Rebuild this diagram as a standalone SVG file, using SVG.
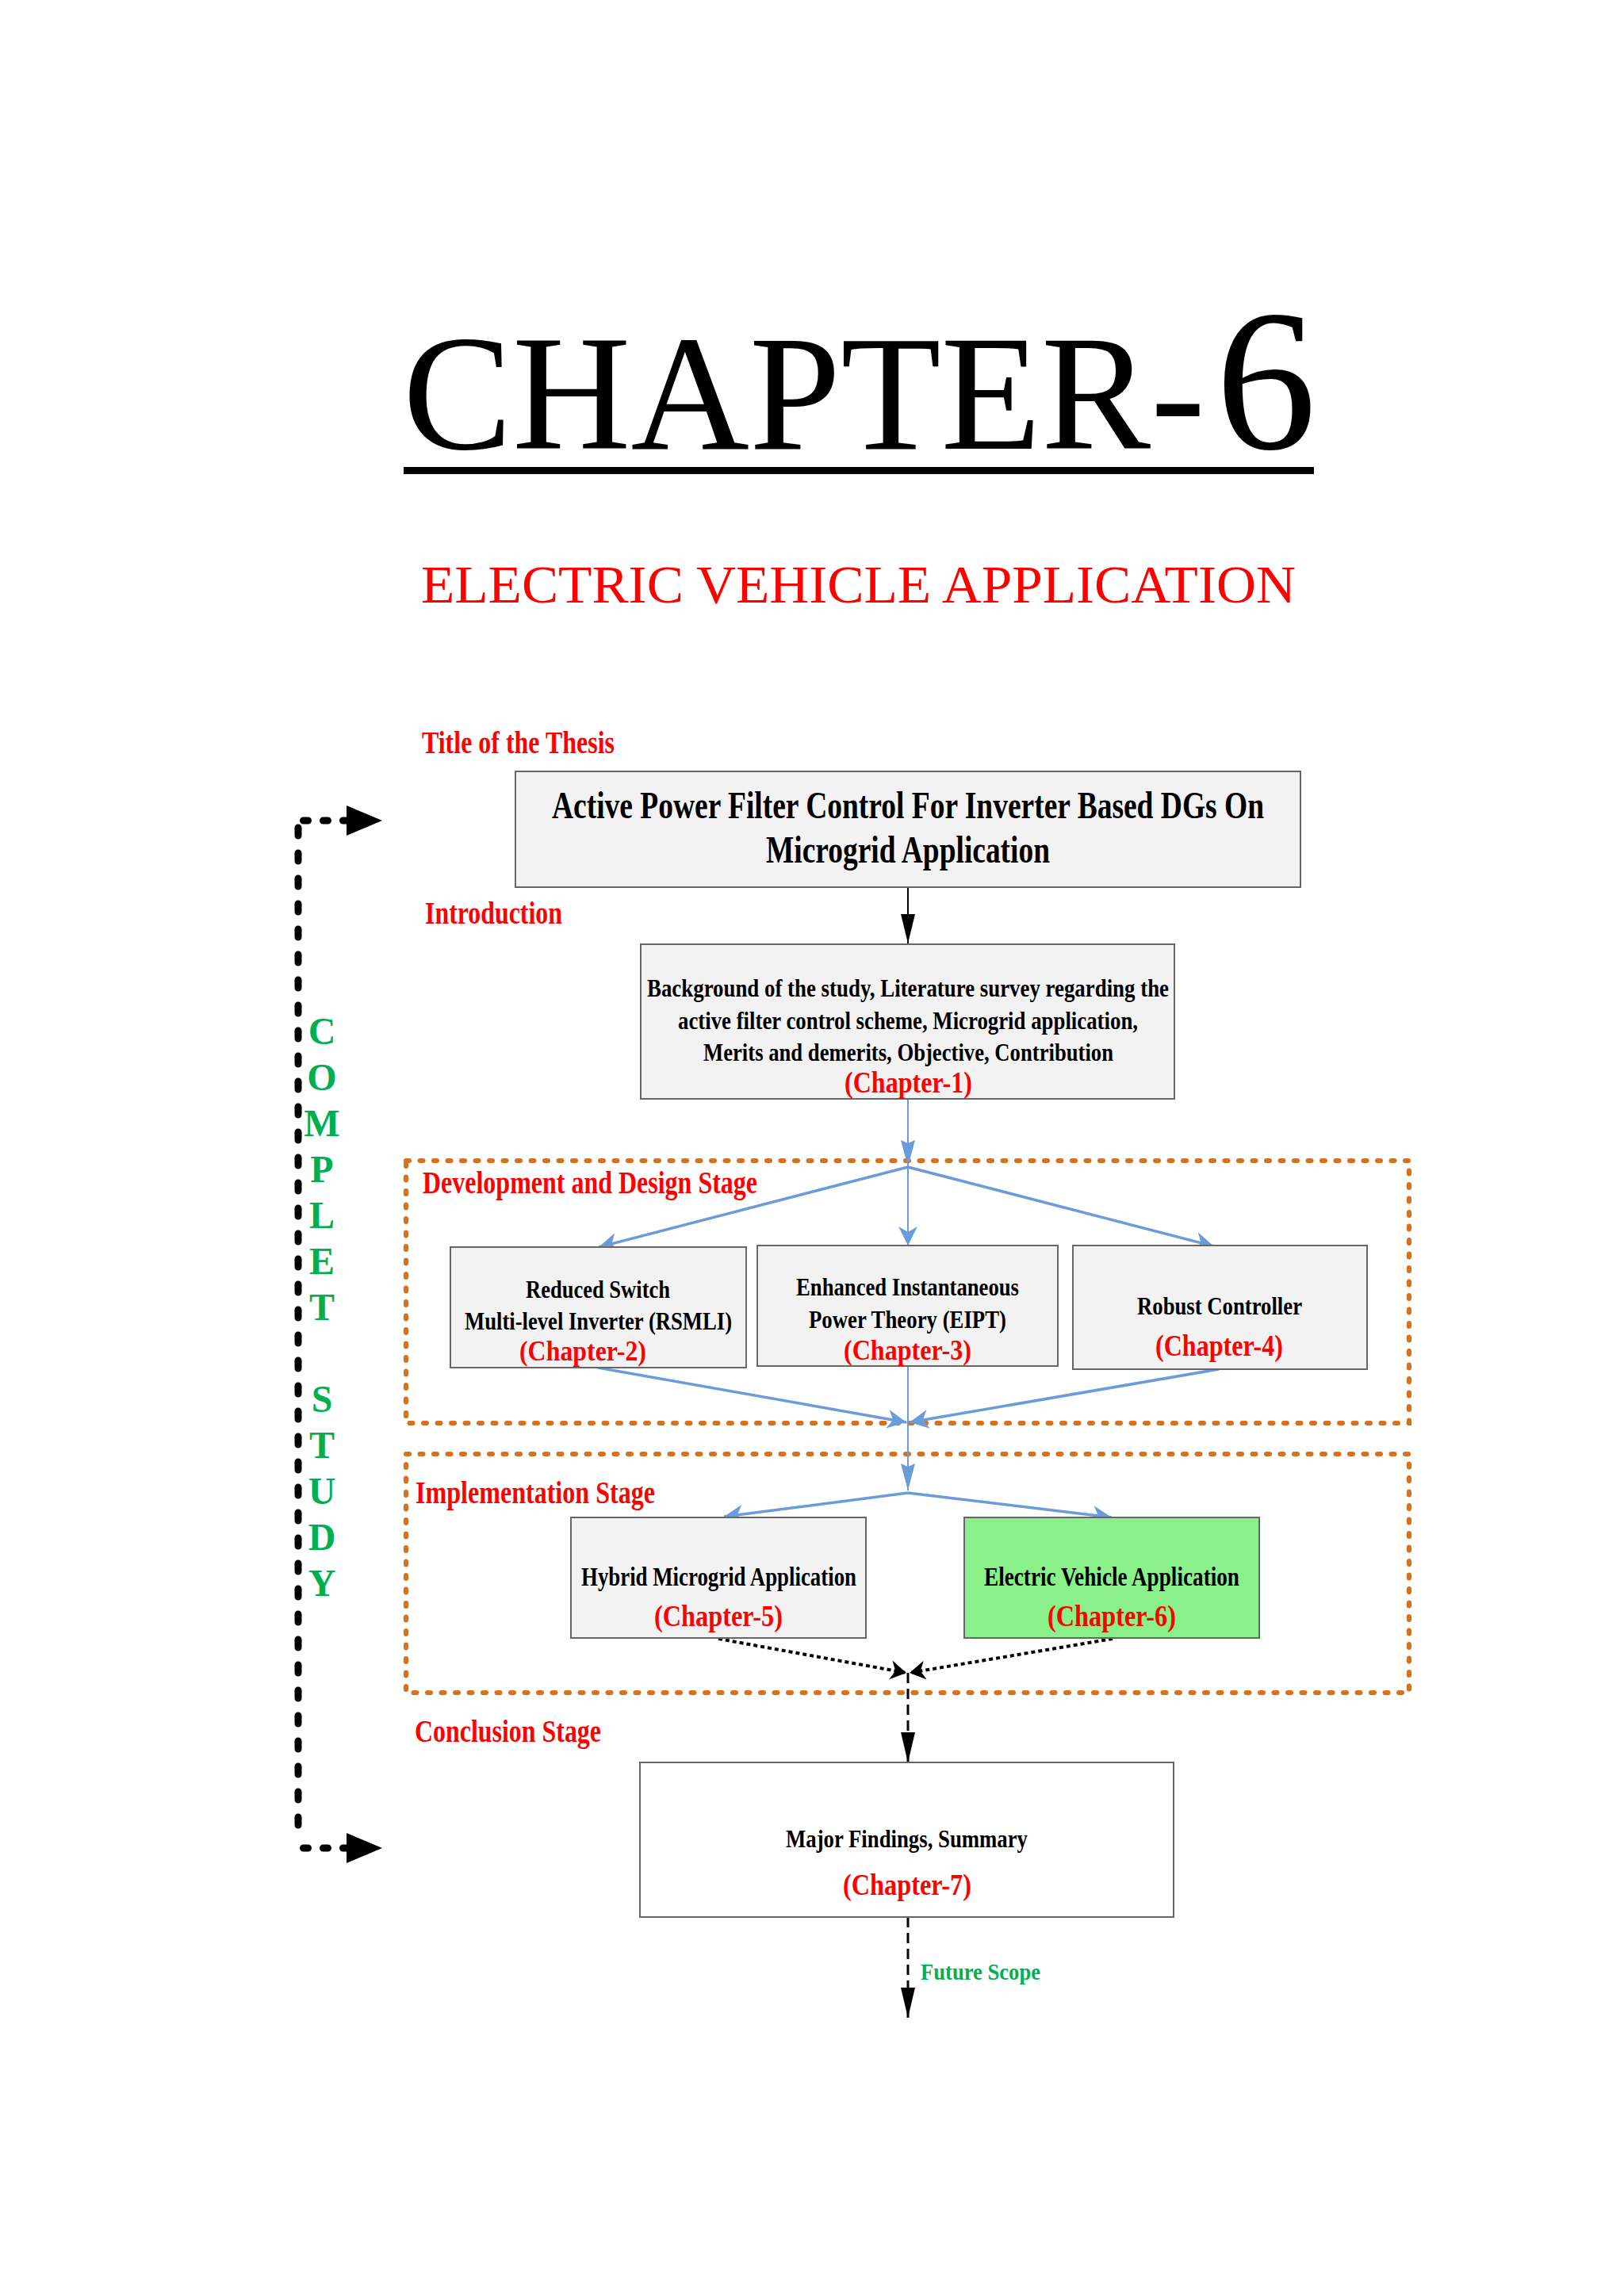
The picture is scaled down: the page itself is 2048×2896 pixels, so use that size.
<svg xmlns="http://www.w3.org/2000/svg" width="2048" height="2896" viewBox="0 0 2048 2896">
<defs>
<style>
text{font-family:"Liberation Serif","Times New Roman",serif;}
.lbl{font-weight:bold;fill:#ff0000;font-size:40px;}
.bt{font-weight:bold;fill:#000;font-size:32px;}
.bt48{font-weight:bold;fill:#000;font-size:48px;}
.bt33{font-weight:bold;fill:#000;font-size:33px;}
.ch{font-weight:bold;fill:#ff0000;font-size:37px;}
.ch34{font-weight:bold;fill:#ff0000;font-size:35px;}
.cs{font-weight:bold;fill:#00b050;font-size:48px;text-anchor:middle;}
.box{fill:#f2f2f2;stroke:#666;stroke-width:2;}
.bl{fill:none;stroke:#6c9bd9;stroke-width:3.5;}
.blt{fill:none;stroke:#6c9bd9;stroke-width:2;}
.stage{fill:none;stroke:#d9701a;stroke-width:6;stroke-dasharray:4 13.5;stroke-linecap:round;}
.kdot{fill:none;stroke:#000;stroke-width:4;stroke-dasharray:5 4;}
.kdash{fill:none;stroke:#000;stroke-width:3;stroke-dasharray:13 7;}
.brk{fill:none;stroke:#000;stroke-width:9;stroke-linecap:round;}
</style>
<marker id="bhA" markerUnits="userSpaceOnUse" viewBox="-26 -14 28 28" refX="0" refY="0" markerWidth="28" markerHeight="28" orient="auto"><path d="M0,0 L-24,-12 L-17,0 L-24,12 Z" fill="#6c9bd9"/></marker>
<marker id="bhB" markerUnits="userSpaceOnUse" viewBox="-36 -11 38 22" refX="0" refY="0" markerWidth="38" markerHeight="22" orient="auto"><path d="M0,0 L-34,-9 L-30,0 L-34,9 Z" fill="#6c9bd9"/></marker>
<marker id="kh1" markerUnits="userSpaceOnUse" viewBox="-39 -11 41 22" refX="0" refY="0" markerWidth="41" markerHeight="22" orient="auto"><path d="M0,0 L-37,-9 L-37,9 Z" fill="#000"/></marker>
<marker id="kh2" markerUnits="userSpaceOnUse" viewBox="-22 -13 24 26" refX="0" refY="0" markerWidth="24" markerHeight="26" orient="auto"><path d="M0,0 L-20,-12 L-14,0 L-20,12 Z" fill="#000"/></marker>
<marker id="kh3" markerUnits="userSpaceOnUse" viewBox="-40 -11 42 22" refX="0" refY="0" markerWidth="42" markerHeight="22" orient="auto"><path d="M0,0 L-38,-9 L-38,9 Z" fill="#000"/></marker>
</defs>
<rect x="0" y="0" width="2048" height="2896" fill="#ffffff"/>

<g id="header">
<text x="508" y="566" font-size="207" fill="#000">CHAPTER-<tspan x="1533" font-size="254">6</tspan></text>
<rect x="509" y="589" width="1148" height="9" fill="#000"/>
<text x="531" y="760" font-size="68" fill="#ff0000" textLength="1103" lengthAdjust="spacingAndGlyphs">ELECTRIC VEHICLE APPLICATION</text>
</g>

<g id="stage-labels">
<text class="lbl" x="532" y="950" textLength="243" lengthAdjust="spacingAndGlyphs">Title of the Thesis</text>
<text class="lbl" x="536" y="1165" textLength="173" lengthAdjust="spacingAndGlyphs">Introduction</text>
<text class="lbl" x="533" y="1505" textLength="422" lengthAdjust="spacingAndGlyphs">Development and Design Stage</text>
<text class="lbl" x="524" y="1896" textLength="302" lengthAdjust="spacingAndGlyphs">Implementation Stage</text>
<text class="lbl" x="523" y="2197" textLength="235" lengthAdjust="spacingAndGlyphs">Conclusion Stage</text>
</g>

<g id="stage-frames">
<rect class="stage" x="512" y="1464" width="1265" height="331"/>
<rect class="stage" x="512" y="1834" width="1265" height="301"/>
</g>

<g id="complete-study">
<path class="brk" d="M376,1044 V2317" stroke-dasharray="10 22"/>
<path class="brk" d="M382.5,1035 H437" stroke-dasharray="6 19"/>
<polygon points="482,1035 437,1016 437,1054" fill="#000"/>
<path class="brk" d="M382.5,2331 H437" stroke-dasharray="6 19"/>
<polygon points="482,2331 437,2312 437,2350" fill="#000"/>
<text class="cs" x="406" y="1317">C</text>
<text class="cs" x="406" y="1375">O</text>
<text class="cs" x="406" y="1433">M</text>
<text class="cs" x="406" y="1491">P</text>
<text class="cs" x="406" y="1549">L</text>
<text class="cs" x="406" y="1607">E</text>
<text class="cs" x="406" y="1665">T</text>
<text class="cs" x="406" y="1781">S</text>
<text class="cs" x="406" y="1839">T</text>
<text class="cs" x="406" y="1897">U</text>
<text class="cs" x="406" y="1955">D</text>
<text class="cs" x="406" y="2013">Y</text>
</g>

<g id="connectors">
<path d="M1145,1120 V1190" fill="none" stroke="#000" stroke-width="2" marker-end="url(#kh1)"/>
<path class="blt" d="M1145,1386 V1472" marker-end="url(#bhB)"/>
<path class="bl" d="M1145,1472 L755,1573" marker-end="url(#bhA)"/>
<path class="blt" d="M1145,1472 V1571" marker-end="url(#bhA)"/>
<path class="bl" d="M1145,1472 L1531,1572" marker-end="url(#bhA)"/>
<path class="bl" d="M754,1725 L1143,1794" marker-end="url(#bhA)"/>
<path class="blt" d="M1145,1723 V1880" marker-end="url(#bhB)"/>
<path class="bl" d="M1537,1727 L1147,1794" marker-end="url(#bhA)"/>
<path class="bl" d="M1145,1883 L913,1913" marker-end="url(#bhA)"/>
<path class="bl" d="M1145,1883 L1402,1914" marker-end="url(#bhA)"/>
<path class="kdot" d="M906,2067 L1143,2110" marker-end="url(#kh2)"/>
<path class="kdot" d="M1403,2067 L1147,2110" marker-end="url(#kh2)"/>
<path class="kdash" d="M1145,2110 V2223" marker-end="url(#kh3)"/>
<path class="kdash" d="M1145,2418 V2545" marker-end="url(#kh3)"/>
</g>

<g id="node-title">
<rect class="box" x="650" y="973" width="990" height="146"/>
<text class="bt48" x="696" y="1032" textLength="898" lengthAdjust="spacingAndGlyphs">Active Power Filter Control For Inverter Based DGs On</text>
<text class="bt48" x="966" y="1088" textLength="358" lengthAdjust="spacingAndGlyphs">Microgrid Application</text>
</g>

<g id="node-ch1">
<rect class="box" x="808" y="1191" width="673" height="195"/>
<text class="bt" x="816" y="1257" textLength="658" lengthAdjust="spacingAndGlyphs">Background of the study, Literature survey regarding the</text>
<text class="bt" x="855" y="1298" textLength="580" lengthAdjust="spacingAndGlyphs">active filter control scheme, Microgrid application,</text>
<text class="bt" x="887" y="1338" textLength="517" lengthAdjust="spacingAndGlyphs">Merits and demerits, Objective, Contribution</text>
<text class="ch" x="1065" y="1378" textLength="161" lengthAdjust="spacingAndGlyphs">(Chapter-1)</text>
</g>

<g id="node-ch2">
<rect class="box" x="568" y="1573" width="373" height="152"/>
<text class="bt" x="663" y="1637" textLength="182" lengthAdjust="spacingAndGlyphs">Reduced Switch</text>
<text class="bt" x="586" y="1677" textLength="337" lengthAdjust="spacingAndGlyphs">Multi-level Inverter (RSMLI)</text>
<text class="ch34" x="655" y="1716" textLength="160" lengthAdjust="spacingAndGlyphs">(Chapter-2)</text>
</g>

<g id="node-ch3">
<rect class="box" x="955" y="1571" width="379" height="152"/>
<text class="bt" x="1004" y="1634" textLength="281" lengthAdjust="spacingAndGlyphs">Enhanced Instantaneous</text>
<text class="bt" x="1020" y="1675" textLength="249" lengthAdjust="spacingAndGlyphs">Power Theory (EIPT)</text>
<text class="ch34" x="1064" y="1715" textLength="161" lengthAdjust="spacingAndGlyphs">(Chapter-3)</text>
</g>

<g id="node-ch4">
<rect class="box" x="1353" y="1571" width="371" height="156"/>
<text class="bt" x="1434" y="1658" textLength="208" lengthAdjust="spacingAndGlyphs">Robust Controller</text>
<text class="ch" x="1457" y="1710" textLength="161" lengthAdjust="spacingAndGlyphs">(Chapter-4)</text>
</g>

<g id="node-ch5">
<rect class="box" x="720" y="1914" width="372" height="152"/>
<text class="bt33" x="733" y="2000" textLength="347" lengthAdjust="spacingAndGlyphs">Hybrid Microgrid Application</text>
<text class="ch" x="825" y="2051" textLength="162" lengthAdjust="spacingAndGlyphs">(Chapter-5)</text>
</g>

<g id="node-ch6">
<rect class="box" x="1216" y="1914" width="372" height="152" style="fill:#89f08a"/>
<text class="bt33" x="1241" y="2000" textLength="322" lengthAdjust="spacingAndGlyphs">Electric Vehicle Application</text>
<text class="ch" x="1321" y="2051" textLength="162" lengthAdjust="spacingAndGlyphs">(Chapter-6)</text>
</g>

<g id="node-ch7">
<rect class="box" x="807" y="2223" width="673" height="195" style="fill:#ffffff"/>
<text class="bt" x="991" y="2330" textLength="305" lengthAdjust="spacingAndGlyphs">Major Findings, Summary</text>
<text class="ch" x="1063" y="2390" textLength="162" lengthAdjust="spacingAndGlyphs">(Chapter-7)</text>
</g>

<g id="future">
<text x="1161" y="2497" font-size="30" font-weight="bold" fill="#00b050" textLength="151" lengthAdjust="spacingAndGlyphs">Future Scope</text>
</g>
</svg>
